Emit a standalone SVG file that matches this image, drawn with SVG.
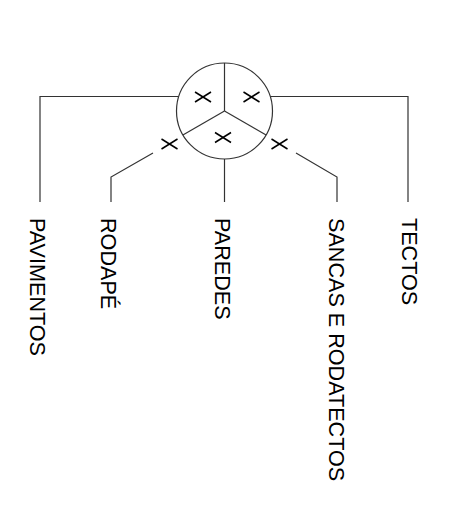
<svg xmlns="http://www.w3.org/2000/svg" width="450" height="511" viewBox="0 0 450 511">
  <defs>
    <style>
      .ln { fill: none; stroke: #333333; stroke-width: 1.2; }
      .cx { fill: none; stroke: #000000; stroke-width: 1.5; }
      .lbl { font-family: "Liberation Sans", Arial, sans-serif; font-size: 21.6px; fill: #000000; }
    </style>
    <g id="xmark">
      <line class="cx" x1="-8" y1="-5" x2="8" y2="5"/>
      <line class="cx" x1="-8" y1="5" x2="8" y2="-5"/>
    </g>
  </defs>
  <rect width="450" height="511" fill="#ffffff"/>

  <g id="connectors">
    <polyline class="ln" points="178.5,96.5 40,96.5 40,202"/>
    <polyline class="ln" points="270.5,96.5 408,96.5 408,202"/>
    <polyline class="ln" points="153,153 111,177 111,202"/>
    <polyline class="ln" points="296,153 337,177 337,202"/>
    <line class="ln" x1="224.5" y1="159" x2="224.5" y2="202"/>
    <use href="#xmark" x="169.5" y="144"/>
    <use href="#xmark" x="279.5" y="144"/>
  </g>

  <g id="hub">
    <circle class="ln" cx="224.5" cy="111" r="48"/>
    <line class="ln" x1="224.5" y1="63" x2="224.5" y2="111"/>
    <line class="ln" x1="224.5" y1="111" x2="182.9" y2="135"/>
    <line class="ln" x1="224.5" y1="111" x2="266.1" y2="135"/>
    <use href="#xmark" x="203" y="97"/>
    <use href="#xmark" x="251.5" y="97"/>
    <use href="#xmark" x="223" y="137.5"/>
  </g>

  <g id="pavimentos"><text class="lbl" transform="translate(30 218) rotate(90)">PAVIMENTOS</text></g>
  <g id="rodape"><text class="lbl" transform="translate(101 218) rotate(90)">RODAPÉ</text></g>
  <g id="paredes"><text class="lbl" transform="translate(215 218) rotate(90)">PAREDES</text></g>
  <g id="sancas"><text class="lbl" transform="translate(328.5 218) rotate(90)">SANCAS E RODATECTOS</text></g>
  <g id="tectos"><text class="lbl" transform="translate(401.5 218) rotate(90)">TECTOS</text></g>
</svg>
